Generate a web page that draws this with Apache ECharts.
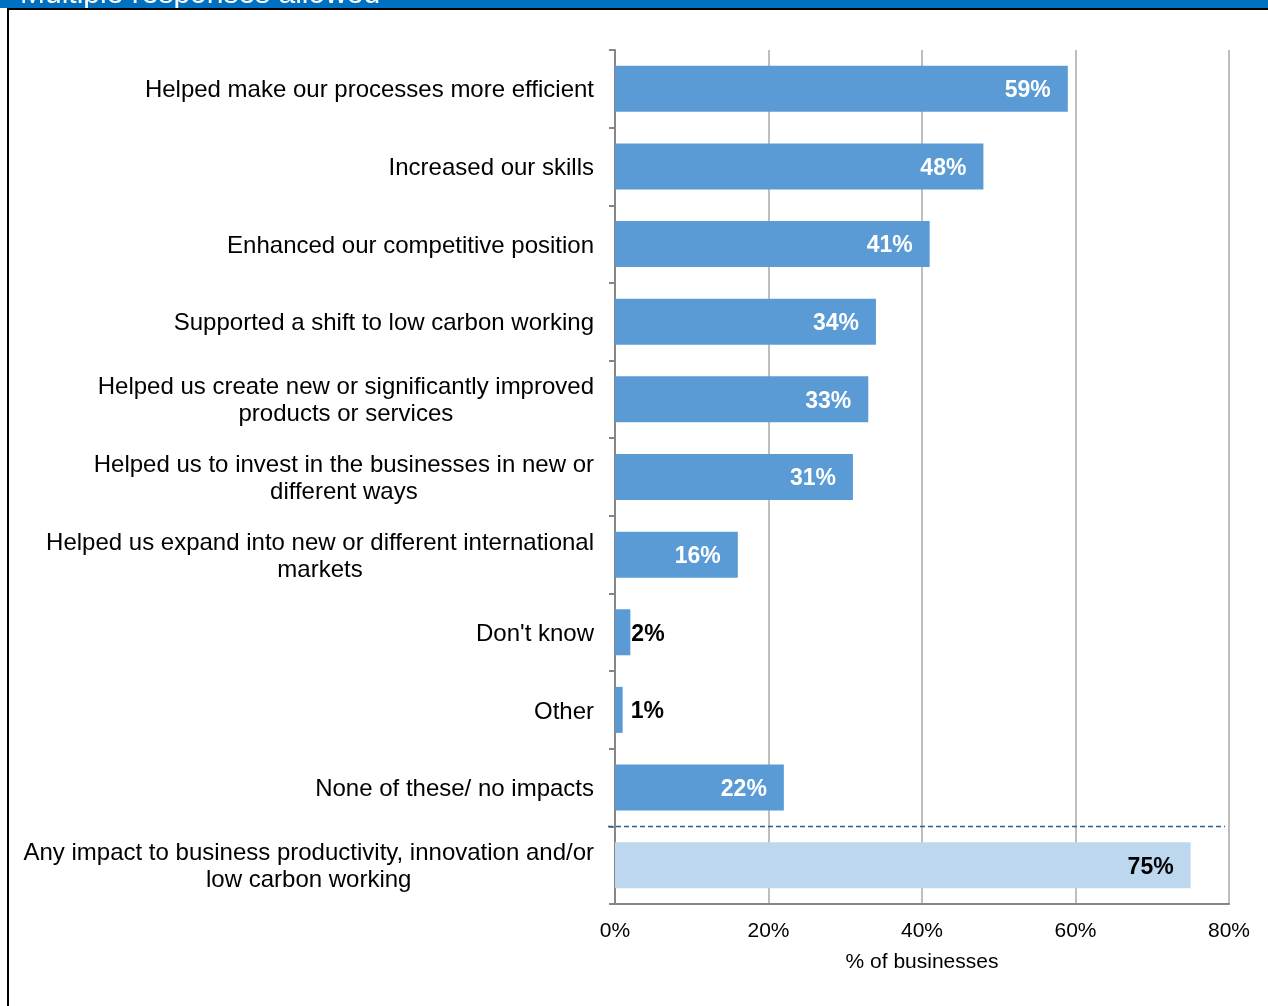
<!DOCTYPE html>
<html>
<head>
<meta charset="utf-8">
<title>Impacts on business</title>
<script src="https://cdn.jsdelivr.net/npm/echarts@6/dist/echarts.min.js"></script>
<style>
  html, body { margin: 0; padding: 0; background: #fff; }
  #chart { width: 1268px; height: 1006px; }
</style>
</head>
<body>
<div id="chart"></div>
<script>
// Survey responses, top to bottom
const categories = [
  "Helped make our processes more efficient",
  "Increased our skills",
  "Enhanced our competitive position",
  "Supported a shift to low carbon working",
  "Helped us create new or significantly improved\nproducts or services",
  "Helped us to invest in the businesses in new or\ndifferent ways",
  "Helped us expand into new or different international\nmarkets",
  "Don't know",
  "Other",
  "None of these/ no impacts",
  "Any impact to business productivity, innovation and/or\nlow carbon working"
];
const values = [59, 48, 41, 34, 33, 31, 16, 2, 1, 22, 75];
const xTicks = [0, 20, 40, 60, 80];

const FONT = "'Liberation Sans', Arial, sans-serif";
const MAIN = '#5B9BD5';
const SUMMARY = '#BDD7EE';
const summaryIndex = categories.length - 1;

const chart = echarts.init(document.getElementById('chart'));

const seriesData = values.map((v, i) => {
  const isSummary = i === summaryIndex;
  const small = v < 5;
  return {
    value: v,
    itemStyle: { color: isSummary ? SUMMARY : MAIN },
    label: {
      position: small ? 'right' : 'insideRight',
      distance: small ? (v < 2 ? 8 : 1) : 17,
      color: (small || isSummary) ? '#000' : '#fff'
    }
  };
});

chart.setOption({
  animation: false,
  backgroundColor: '#fff',
  textStyle: { fontFamily: FONT },
  grid: { left: 615, right: 39, top: 50, bottom: 102, containLabel: false },
  xAxis: {
    type: 'value',
    min: xTicks[0],
    max: xTicks[xTicks.length - 1],
    interval: 20,
    axisLine: { show: true, lineStyle: { color: '#868686', width: 2 } },
    axisTick: { show: false },
    axisLabel: {
      formatter: '{value}%',
      fontSize: 21,
      color: '#000',
      margin: 17,
      fontFamily: FONT
    },
    splitLine: { show: true, lineStyle: { color: '#BEBEBE', width: 2 } },
    name: '% of businesses',
    nameLocation: 'middle',
    nameGap: 48,
    nameTextStyle: { fontSize: 21, color: '#000', fontFamily: FONT }
  },
  yAxis: {
    type: 'category',
    inverse: true,
    data: categories,
    axisLine: { show: true, lineStyle: { color: '#868686', width: 2 } },
    axisTick: { show: true, length: 6, lineStyle: { color: '#868686', width: 2 } },
    axisLabel: {
      margin: 21,
      color: '#000',
      align: 'right',
      padding: [4, 0, 0, 0],
      formatter: (txt) => txt.split('\n').map(l => '{c|' + l + '}').join('\n'),
      rich: {
        c: { align: 'center', fontSize: 24, lineHeight: 27, color: '#000', fontFamily: FONT }
      }
    },
    splitLine: { show: false }
  },
  series: [{
    type: 'bar',
    data: seriesData,
    barWidth: 46,
    label: {
      show: true,
      formatter: '{c}%',
      fontSize: 23,
      fontWeight: 'bold',
      fontFamily: FONT,
      offset: [0, 2]
    }
  }]
});

// Separator between the individual impacts and the overall summary row
const yA = chart.convertToPixel({ yAxisIndex: 0 }, summaryIndex - 1);
const yB = chart.convertToPixel({ yAxisIndex: 0 }, summaryIndex);
const ySep = Math.round((yA + yB) / 2) + 0.5;
const x0 = chart.convertToPixel({ xAxisIndex: 0 }, xTicks[0]);
const x1 = chart.convertToPixel({ xAxisIndex: 0 }, xTicks[xTicks.length - 1]);

chart.setOption({
  graphic: [
    // page banner
    { type: 'rect', left: 0, top: 0, shape: { width: 1268, height: 8 }, style: { fill: '#0070C0' }, z: 10 },
    { type: 'text', x: 20, y: 10, style: { text: 'Multiple responses allowed', fill: '#fff', fontSize: 30, fontFamily: FONT, textVerticalAlign: 'bottom' }, z: 11,
      clipPath: { type: 'rect', shape: { x: -20, y: -10, width: 1268, height: 8 } } },
    { type: 'rect', left: 7, top: 8, shape: { width: 1261, height: 2 }, style: { fill: '#000' }, z: 12 },
    { type: 'rect', left: 7, top: 8, shape: { width: 2, height: 998 }, style: { fill: '#000' }, z: 12 },
    // dashed separator
    { type: 'line', shape: { x1: x0 - 7, y1: ySep, x2: x1 - 4, y2: ySep },
      style: { stroke: '#2F5C8F', lineWidth: 1.3, lineDash: [5, 3] }, z: 5 }
  ]
});
</script>
</body>
</html>
